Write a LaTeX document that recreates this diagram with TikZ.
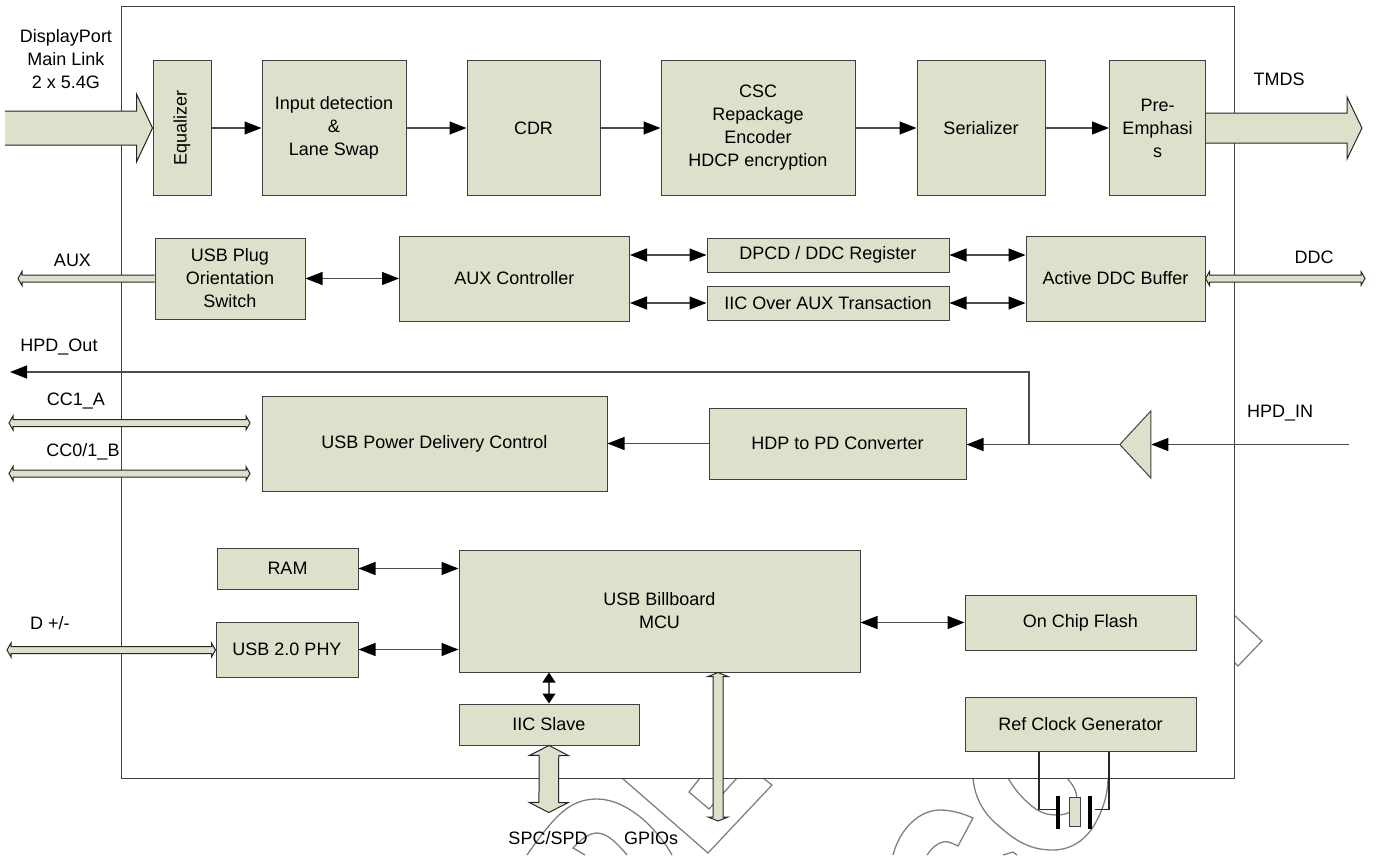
\documentclass[tikz,border=0pt]{standalone}
\usepackage{fontspec}
\setmainfont{Liberation Sans}
\usetikzlibrary{arrows.meta, calc, shapes.geometric}
\definecolor{boxgreen}{HTML}{DDE0CA}

\begin{document}
\begin{tikzpicture}[
        x=1pt,y=-1pt,
        font=\fontsize{18}{23}\selectfont,
        block/.style 2 args={% For the function blocks
            rectangle,
            draw=black!75,
            fill=boxgreen,
            line width=1pt,
            inner sep=0pt,
            align=center,
            minimum width=#1pt,
            minimum height=#2pt,
            },
        mylabel/.style={% For the pin names outside the blocks
            inner sep=0pt,
            align=center,
            },
        arw/.style={% Thin arrows with one head
            -{Triangle[length=17pt,width=13pt,color=black]},
            draw=black!70,
            line width=1.2pt,
            },
        darw/.style={% Thin arrows with two heads
            {Triangle[length=17pt,width=13pt,color=black]}-{Triangle[length=17pt,width=13pt,color=black]},
            draw=black!70,
            line width=1.2pt,
            },
        wire/.style={draw=black!85,line width=1.1pt},
        mark line/.style={draw=black!50,line width=1.3pt},
        plate/.style={fill=black,inner sep=0pt,minimum width=3.2pt,minimum height=33pt},
        fatbus/.style n args={3}{% Bus with two heads: half body, half head, head length
            draw=black!85,
            fill=boxgreen,
            line width=1pt,
            to path={
                ($(\tikztostart)!#3!(\tikztotarget)$) coordinate (bs)
                ($(\tikztotarget)!#3!(\tikztostart)$) coordinate (be)
                (\tikztostart) -- ($(bs)!#2!90:(be)$) -- ($(bs)!#1!90:(be)$)
                -- ($(be)!#1!-90:(bs)$) -- ($(be)!#2!-90:(bs)$) -- (\tikztotarget)
                -- ($(be)!#2!90:(bs)$) -- ($(be)!#1!90:(bs)$)
                -- ($(bs)!#1!-90:(be)$) -- ($(bs)!#2!-90:(be)$) -- cycle
                },
            },
        fatarrow/.style n args={3}{% Bus with one head, left open at its tail
            draw=black!85,
            fill=boxgreen,
            line width=1pt,
            to path={
                ($(\tikztotarget)!#3!(\tikztostart)$) coordinate (be)
                ($(\tikztostart)!#1!90:(\tikztotarget)$) -- ($(be)!#1!-90:(\tikztostart)$)
                -- ($(be)!#2!-90:(\tikztostart)$) -- (\tikztotarget)
                -- ($(be)!#2!90:(\tikztostart)$) -- ($(be)!#1!90:(\tikztostart)$)
                -- ($(\tikztostart)!#1!-90:(\tikztotarget)$)
                },
            },
            ]
    \useasboundingbox (0,0) rectangle (1377,855);
    % Marks behind the chip outline
    \draw[mark line] (622,778) -- (708,853) -- (772,785) -- (763,778);
    \draw[mark line] (700,778) -- (689,792) -- (709,809) -- (737,778);
    \draw[mark line] (527,855) .. controls (555,815) and (570,799) .. (597,799) .. controls (625,799) and (655,825) .. (672,855);
    \draw[mark line] (585,855) -- (573,848) .. controls (582,838) and (590,833) .. (597,833) .. controls (607,833) and (617,843) .. (627,855);
    \draw[mark line] (893,855) .. controls (900,828) and (920,810) .. (940,810) .. controls (950,810) and (962,813) .. (973,818) -- (958,846) .. controls (950,842) and (947,841) .. (943,842) .. controls (937,843) and (932,848) .. (927,855);
    \draw[mark line] (1003,855) -- (1013,852) -- (1017,855);
    \draw[mark line] (973,778) .. controls (975,800) and (985,815) .. (1000,827) .. controls (1020,845) and (1035,850) .. (1053,850) .. controls (1075,850) and (1090,835) .. (1097,820) .. controls (1105,805) and (1108,790) .. (1108,778);
    \draw[mark line] (1008,778) .. controls (1015,790) and (1022,798) .. (1033,807) .. controls (1042,814) and (1050,815) .. (1057,815) .. controls (1068,815) and (1077,810) .. (1077,800) .. controls (1077,790) and (1072,784) .. (1067,778);
    \draw[mark line] (1234,615) -- (1262,641) -- (1238,666) -- (1234,662);
    % Chip outline
    \node[block={1113}{772},fill=white] (chip) at (677.5,392) {};
    % Main link row
    \node[block={58}{135}] (eq) at (182,128) {\rotatebox{90}{Equalizer}};
    \node[block={144}{135}] (indet) at (334,128) {Input detection\\\&\\Lane Swap};
    \node[block={133}{135}] (cdr) at (533.5,128) {CDR};
    \node[block={194}{135}] (csc) at (758,128) {CSC\\Repackage\\Encoder\\HDCP encryption};
    \node[block={128}{135}] (ser) at (981,128) {Serializer};
    \node[block={96}{135}] (pre) at (1157.5,128) {Pre-\\Emphasi\\s};
    % AUX row
    \node[block={150}{81}] (plug) at (230,278.5) {USB Plug\\Orientation\\Switch};
    \node[block={230}{85}] (auxc) at (514.5,278.5) {AUX Controller};
    \node[block={242}{34}] (dpcd) at (828,255) {DPCD / DDC Register};
    \node[block={242}{34}] (iicaux) at (828,303) {IIC Over AUX Transaction};
    \node[block={179}{85}] (ddcbuf) at (1115.5,278.5) {Active DDC Buffer};
    % Hot plug row
    \node[block={345}{95}] (pd) at (434.5,443.5) {USB Power Delivery Control};
    \node[block={257}{71}] (hdp) at (837.5,443.5) {HDP to PD Converter};
    \node[isosceles triangle,isosceles triangle stretches,shape border rotate=180,draw=black!75,fill=boxgreen,line width=1pt,inner sep=0pt,minimum width=67pt,minimum height=31pt,anchor=apex] (buf) at (1118.5,444.5) {};
    % MCU part
    \node[block={141}{41}] (ram) at (287.5,568.5) {RAM};
    \node[block={142}{55}] (phy) at (287,649.5) {USB 2.0 PHY};
    \node[block={401}{122}] (mcu) at (659.5,611) {USB Billboard\\MCU};
    \node[block={231}{55}] (flash) at (1080.5,622.5) {On Chip Flash};
    \node[block={231}{54}] (clk) at (1080.5,724) {Ref Clock Generator};
    \node[block={180}{41}] (iics) at (549,724.5) {IIC Slave};
    % Crystal
    \node[block={11}{29}] (xtal) at (1074.5,811.5) {};
    \node[plate] (pl) at (1058,812.5) {};
    \node[plate] (pr) at (1090,812.5) {};
    % Free ends
    \coordinate (dpin) at (5,128);
    \coordinate (tmds) at (1362,128);
    \coordinate (aux) at (18,278.5);
    \coordinate (ddc) at (1365,278.5);
    \coordinate (hpdout) at (10,372);
    \coordinate (hpdin) at (1349,444.5);
    \coordinate (hpdtap) at (1029,444.5);
    \coordinate (cca) at (9,423);
    \coordinate (ccae) at (250,423);
    \coordinate (ccb) at (9,473.5);
    \coordinate (ccbe) at (250,473.5);
    \coordinate (dm) at (7,650);
    \coordinate (spc) at (548.7,812.5);
    \coordinate (gpio) at (718,821);
    % Thin arrows
    \draw[arw] (eq) -- (indet);
    \draw[arw] (indet) -- (cdr);
    \draw[arw] (cdr) -- (csc);
    \draw[arw] (csc) -- (ser);
    \draw[arw] (ser) -- (pre);
    \draw[darw] (plug) -- (auxc);
    \draw[darw] (auxc.east |- dpcd.west) -- (dpcd);
    \draw[darw] (auxc.east |- iicaux.west) -- (iicaux);
    \draw[darw] (dpcd) -- (ddcbuf.west |- dpcd.east);
    \draw[darw] (iicaux) -- (ddcbuf.west |- iicaux.east);
    \draw[arw] (hpdin) -- (buf.lower side);
    \draw[arw] (buf.apex) -- (hdp.east |- buf.apex);
    \draw[arw] (hpdtap) |- (hpdout);
    \draw[arw] (hdp) -- (pd);
    \draw[darw] (ram.east) -- (mcu.west |- ram.east);
    \draw[darw] (phy.east) -- (mcu.west |- phy.east);
    \draw[darw] (mcu.east |- flash.west) -- (flash);
    \draw[{Triangle[length=10pt,width=13pt,color=black]}-{Triangle[length=10pt,width=13pt,color=black]},draw=black!70,line width=1.2pt] (mcu.south -| iics.north) -- (iics.north);
    % Wide arrows and buses
    \draw[fatarrow={17pt}{34pt}{16pt}] (dpin) to (eq.west);
    \draw[fatarrow={15pt}{31pt}{15pt}] (pre.east) to (tmds);
    \draw[fatarrow={3.5pt}{7pt}{4pt}] (plug.west) to (aux);
    \draw[fatbus={3.5pt}{7pt}{4pt}] (ddcbuf.east) to (ddc);
    \draw[fatbus={3.5pt}{7pt}{4pt}] (cca) to (ccae);
    \draw[fatbus={3.5pt}{7pt}{4pt}] (ccb) to (ccbe);
    \draw[fatbus={3.5pt}{7pt}{4pt}] (dm) to (phy.west |- dm);
    \draw[fatbus={9.8pt}{19.5pt}{10pt}] (iics.south) to (spc);
    \draw[fatbus={5pt}{10pt}{4pt}] (mcu.south -| gpio) to (gpio);
    % Crystal wires
    \draw[wire] ([xshift=-41.5pt]clk.south) |- ([yshift=3pt]pl.west);
    \draw[wire] ([xshift=28.5pt]clk.south) |- ([xshift=3pt,yshift=3pt]pr.east);
    % Pin names
    \node[mylabel] (dplabel) at (66,59) {DisplayPort\\Main Link\\2 x 5.4G};
    \node[mylabel] (tmdslabel) at (1279,79) {TMDS};
    \node[mylabel] (auxlabel) at (72.5,260) {AUX};
    \node[mylabel] (ddclabel) at (1314,257) {DDC};
    \node[mylabel] (hpdoutlabel) at (59,347) {HPD\_Out};
    \node[mylabel] (ccalabel) at (76,401) {CC1\_A};
    \node[mylabel] (ccblabel) at (83,452) {CC0/1\_B};
    \node[mylabel] (hpdinlabel) at (1280,413) {HPD\_IN};
    \node[mylabel] (dmlabel) at (50,623) {D +/-};
    \node[mylabel] (spclabel) at (548,838) {SPC/SPD};
    \node[mylabel] (gpiolabel) at (651,838) {GPIOs};
\end{tikzpicture}
\end{document}
